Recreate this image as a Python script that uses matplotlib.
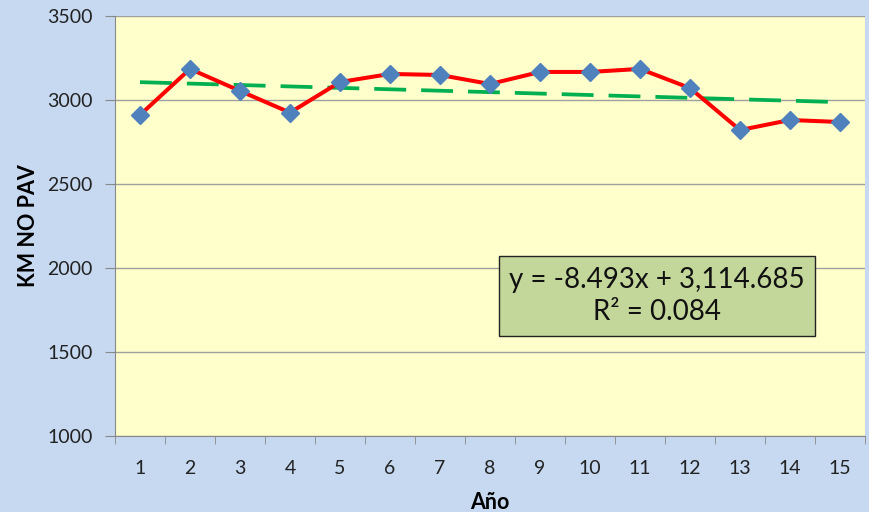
import numpy as np
import matplotlib
matplotlib.use("Agg")
import matplotlib.pyplot as plt
from matplotlib.ticker import FixedLocator

# data
years = list(range(1, 16))
km_no_pav = [2911, 3185, 3054, 2925, 3107, 3155, 3149, 3095, 3167, 3167, 3185, 3071, 2821, 2881, 2869]
slope = -8.493
intercept = 3114.685
r2 = 0.084

plt.rcParams["font.family"] = ["Lato", "DejaVu Sans"]

fig = plt.figure(figsize=(8.69, 5.12), dpi=100)
fig.patch.set_facecolor("#C6D9F1")
ax = fig.add_axes([115 / 869, 76 / 512, 750 / 869, 420 / 512])
ax.set_facecolor("#FFFFCC")

x = np.array(years)
trend = slope * x + intercept
ax.plot(x, trend, color="#00B050", lw=2.7, ls=(0, (8.5, 4)), zorder=2)
ax.plot(x, km_no_pav, color="#FF0000", lw=2.9, marker="D", markersize=9,
        markerfacecolor="#4F81BD", markeredgecolor="#4F81BD", zorder=3)

ax.set_xlim(0.5, 15.5)
ax.set_ylim(1000, 3500)
ax.set_yticks(range(1000, 3501, 500))
ax.set_xticks(years)
ax.xaxis.set_minor_locator(FixedLocator(np.arange(0.5, 15.6, 1)))
ax.tick_params(axis="x", which="major", length=0, pad=17, labelsize=14, colors="#222222")
ax.tick_params(axis="x", which="minor", length=6, direction="out", color="#888888")
ax.tick_params(axis="y", length=7, direction="out", color="#888888", labelsize=14,
               labelcolor="#222222", pad=9)
ax.grid(axis="y", color="#A0A0A0", lw=1)
ax.set_axisbelow(True)
for side in ("top", "right"):
    ax.spines[side].set_visible(False)
for side in ("left", "bottom"):
    ax.spines[side].set_color("#888888")

ax.set_ylabel("KM NO PAV", fontsize=15.5, fontweight="bold")
ax.yaxis.set_label_coords(-0.101, 0.5)
ax.set_xlabel("Año", fontsize=15.5, fontweight="bold")
ax.xaxis.set_label_coords(0.5, -0.133)

ax.text(0.7227, 0.333, f"y = {slope:.3f}x + {intercept:,.3f}\nR² = {r2:.3f}",
        transform=ax.transAxes, ha="center", va="center", fontsize=20,
        linespacing=1.3, color="#111111",
        bbox=dict(boxstyle="square,pad=0.38", facecolor="#C4D79B", edgecolor="#222222", lw=1))

fig.savefig("out.png", dpi=100, facecolor=fig.get_facecolor())
